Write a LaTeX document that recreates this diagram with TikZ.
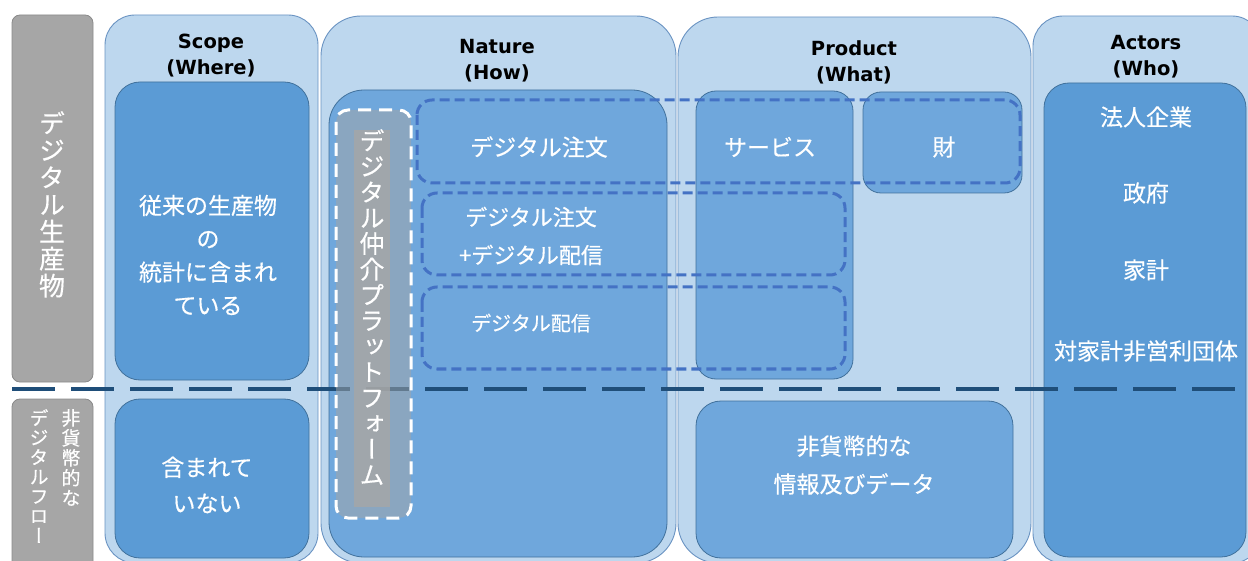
\documentclass[tikz,border=0pt]{standalone}
\usepackage{fontspec}
\setmainfont{DejaVu Sans}
\newfontfamily\jp[FakeBold=0.4]{Noto Sans CJK JP}
\newfontfamily\vjp[RawFeature=+vert,FakeBold=0.4]{Noto Sans CJK JP}
\definecolor{outerfill}{HTML}{BDD7EE}
\definecolor{outerdraw}{HTML}{6A93C2}
\definecolor{innerA}{HTML}{5B9BD5}
\definecolor{innerB}{HTML}{6FA7DC}
\definecolor{innerdraw}{HTML}{41719C}
\definecolor{dashblue}{HTML}{4472C4}
\definecolor{darkline}{HTML}{1F4E79}
\definecolor{graybox}{HTML}{A6A6A6}
\definecolor{graydraw}{HTML}{8A8A8A}
\tikzset{
  outerbox/.style={fill=outerfill, draw=outerdraw, line width=0.9pt},
  innerboxA/.style={fill=innerA, draw=innerdraw, line width=0.8pt},
  innerboxB/.style={fill=innerB, draw=innerdraw, line width=0.8pt},
  labelbox/.style={fill=graybox, draw=graydraw, line width=0.8pt, rounded corners=8pt},
  catbox/.style={draw=dashblue, line width=3pt, dash pattern=on 10pt off 5pt, rounded corners=15pt},
  title/.style={font=\bfseries\fontsize{19.5}{26}\selectfont, align=center, text=black, inner sep=0pt},
  jtext/.style={font=\jp\fontsize{23}{34}\selectfont, align=center, text=white, inner sep=0pt},
  vtext/.style={align=center, text=white, inner sep=0pt, anchor=north},
}
\begin{document}
\begin{tikzpicture}[x=1pt,y=-1pt]
\useasboundingbox (0,0) rectangle (1248,561);
\clip (0,0) rectangle (1248,561);
% left labels
\draw[labelbox] (12,15) rectangle (93,382);
\draw[labelbox] (12,399) rectangle (93,570);
% outer columns
\draw[outerbox, rounded corners=30pt] (105,15) rectangle (318,563);
\draw[outerbox, rounded corners=40pt] (321,16) rectangle (676,563);
\draw[outerbox, rounded corners=40pt] (678,17) rectangle (1031,563);
\draw[outerbox, rounded corners=30pt] (1033,16) rectangle (1262,563);
% inner boxes
\draw[innerboxA, rounded corners=25pt] (115,82) rectangle (309,380);
\draw[innerboxA, rounded corners=25pt] (115,399) rectangle (309,558);
\draw[innerboxB, rounded corners=35pt] (329,90) rectangle (667,557);
\draw[innerboxB, rounded corners=20pt] (696,91) rectangle (853,379);
\draw[innerboxB, rounded corners=18pt] (863,92) rectangle (1022,193);
\draw[innerboxB, rounded corners=25pt] (696,401) rectangle (1013,558);
\draw[innerboxA, rounded corners=25pt] (1044,83) rectangle (1246,557);
% dashed category boxes
\draw[catbox] (417,100) rectangle (1020,183);
\draw[catbox] (422,193) rectangle (845,275);
\draw[catbox] (422,287) rectangle (845,369);
% horizontal divider
\coordinate (divL) at (12,389);
\coordinate (divR) at (1248,389);
\draw[darkline, line width=4pt, dash pattern=on 43pt off 16pt] (divL) -- (divR);
% platform
\draw[white, line width=3pt, dash pattern=on 13pt off 8pt, rounded corners=12pt, fill=graybox, fill opacity=0.5, draw opacity=1] (336,110) rectangle (411,518);
\fill[graybox, opacity=0.8] (354,130) rectangle (390,507);
% titles
\node[title] (tScope) at (211,56) {Scope\\(Where)};
\node[title] (tNature) at (497,61) {Nature\\(How)};
\node[title] (tProduct) at (854,62) {Product\\(What)};
\node[title] (tActors) at (1146,57) {Actors\\(Who)};
% vertical labels
\node[vtext, font=\vjp\fontsize{26}{27.1}\selectfont] (vDigital) at (52,111) {デ\\ジ\\タ\\ル\\生\\産\\物};
\node[vtext, font=\vjp\fontsize{19}{20}\selectfont] (vNonMon) at (71,409) {非\\貨\\幣\\的\\な};
\node[vtext, font=\vjp\fontsize{19}{19.6}\selectfont] (vFlow) at (39,409) {デ\\ジ\\タ\\ル\\フ\\ロ\\ー};
\node[vtext, font=\vjp\fontsize{25}{25.7}\selectfont] (vPlat) at (372,129) {デ\\ジ\\タ\\ル\\仲\\介\\プ\\ラ\\ッ\\ト\\フ\\ォ\\ー\\ム};
% scope texts
\node[jtext, font=\jp\fontsize{23}{33.3}\selectfont] (sIn) at (208,255) {従来の生産物\\の\\統計に含まれ\\ている};
\node[jtext, font=\jp\fontsize{23}{36}\selectfont] (sOut) at (207,485) {含まれて\\いない};
% nature texts
\node[jtext] (nOrder) at (539,147) {デジタル注文};
\node[jtext, font=\jp\fontsize{22}{38}\selectfont] (nBoth) at (531,236) {デジタル注文\\+デジタル配信};
\node[jtext, font=\jp\fontsize{20}{24}\selectfont] (nDeliv) at (531,323) {デジタル配信};
% product texts
\node[jtext] (pServ) at (770,147) {サービス};
\node[jtext] (pGoods) at (944,147) {財};
\node[jtext, font=\jp\fontsize{23}{38}\selectfont] (pData) at (854,465) {非貨幣的な\\情報及びデータ};
% actors
\node[jtext] (aCorp) at (1146,117) {法人企業};
\node[jtext] (aGov) at (1146,193) {政府};
\node[jtext] (aHH) at (1146,270) {家計};
\node[jtext] (aNPISH) at (1146,351) {対家計非営利団体};
\end{tikzpicture}
\end{document}
